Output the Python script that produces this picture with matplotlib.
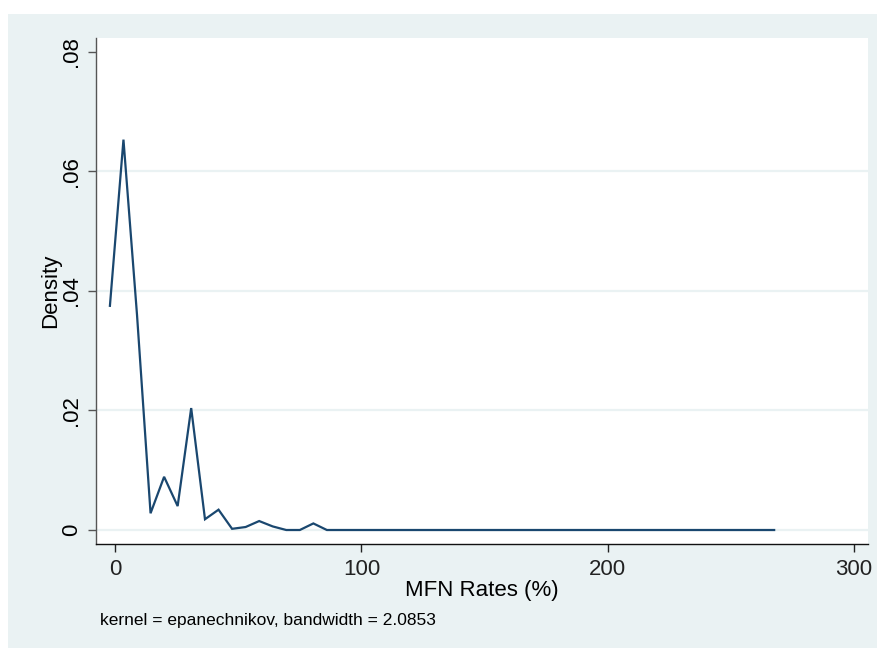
import matplotlib.pyplot as plt
from matplotlib.patches import Rectangle

# kdensity evaluation grid (MFN rate, %) and estimated density
mfn_rate = [-2.1, 3.4, 8.9, 14.4, 19.9, 25.4, 30.9, 36.5, 42.0, 47.5,
            53.0, 58.5, 64.0, 69.5, 75.0, 80.5, 86.0, 91.5, 97.0, 102.5,
            108.0, 113.5, 119.0, 124.5, 130.0, 135.5, 141.0, 146.5, 152.0, 157.5,
            163.0, 168.5, 174.1, 179.6, 185.1, 190.6, 196.1, 201.6, 207.1, 212.6,
            218.1, 223.6, 229.1, 234.6, 240.1, 245.6, 251.1, 256.6, 262.1, 267.6]
density = [0.0375, 0.0653, 0.0360, 0.0028, 0.0089, 0.0040, 0.0204, 0.0018, 0.0034, 0.0002,
           0.0005, 0.0015, 0.0006, 0.0, 0.0, 0.0011, 0.0, 0.0, 0.0, 0.0,
           0.0, 0.0, 0.0, 0.0, 0.0, 0.0, 0.0, 0.0, 0.0, 0.0,
           0.0, 0.0, 0.0, 0.0, 0.0, 0.0, 0.0, 0.0, 0.0, 0.0,
           0.0, 0.0, 0.0, 0.0, 0.0, 0.0, 0.0, 0.0, 0.0, 0.0]

xticks = [0, 100, 200, 300]
yticks = [0, 0.02, 0.04, 0.06, 0.08]
ytick_labels = ["0", ".02", ".04", ".06", ".08"]

BG = "#EAF2F3"
LINE = "#1A476F"

plt.rcParams["font.family"] = ["Liberation Sans", "DejaVu Sans"]

W, H = 878, 648
fig = plt.figure(figsize=(W / 100, H / 100), dpi=100, facecolor=BG)

# white strips along the top and left edges
fig.patches.append(Rectangle((0, 1 - 14 / H), 1, 14 / H, transform=fig.transFigure,
                             facecolor="white", edgecolor="none", zorder=0))
fig.patches.append(Rectangle((0, 0), 8 / W, 1, transform=fig.transFigure,
                             facecolor="white", edgecolor="none", zorder=0))

ax = fig.add_axes([96 / W, (H - 544) / H, (868 - 96) / W, (544 - 38) / H])
ax.set_facecolor("white")

for y in yticks[:-1]:
    ax.axhline(y, color=BG, lw=1.6, zorder=1)

ax.plot(mfn_rate, density, color=LINE, lw=1.6, zorder=3, solid_joinstyle="miter")

ax.set_xlim(-7.75, 305.7)
ax.set_ylim(-0.00234, 0.0823)

ax.set_xticks(xticks)
ax.set_yticks(yticks)
ax.set_yticklabels(ytick_labels, rotation=90, va="center")

for side in ("top", "right"):
    ax.spines[side].set_visible(False)
ax.spines["left"].set_color("#555555")
ax.spines["bottom"].set_color("#111111")
ax.spines["left"].set_linewidth(1.0)
ax.spines["bottom"].set_linewidth(1.0)

ax.tick_params(axis="both", direction="out", length=5.8, width=1.0,
               labelsize=16, color="#555555")
ax.tick_params(axis="x", pad=5, colors="#222222")
ax.tick_params(axis="y", pad=4)

ax.set_xlabel("MFN Rates (%)", fontsize=16)
ax.set_ylabel("Density", fontsize=16)
ax.xaxis.set_label_coords(0.5, -(580 - 544) / 506, transform=ax.transAxes)
ax.yaxis.set_label_coords(-(96 - 61) / 772, 0.5, transform=ax.transAxes)

fig.text(100 / W, 1 - 620 / H, "kernel = epanechnikov, bandwidth = 2.0853",
         fontsize=12.5, ha="left", va="center")

fig.savefig("out.png", dpi=100, facecolor=BG)
